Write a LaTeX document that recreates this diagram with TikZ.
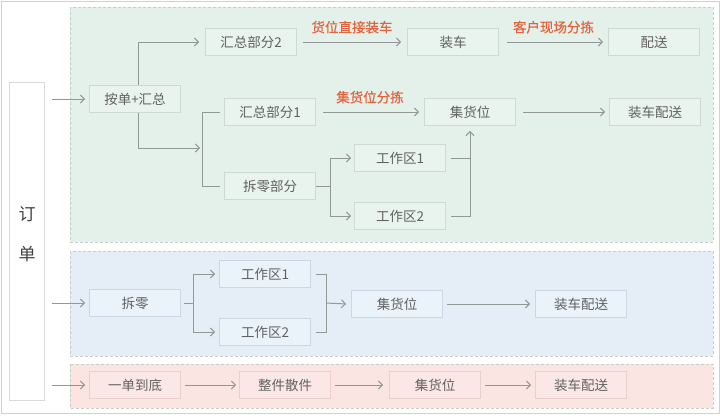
\documentclass[tikz,border=0pt]{standalone}
\usepackage{fontspec}
\newfontfamily\cjk{Noto Sans CJK SC}
\newfontfamily\cjkb[FakeBold=0.35]{Noto Sans CJK SC}
\usetikzlibrary{arrows.meta}
\definecolor{txt}{HTML}{616161}
\definecolor{ln}{HTML}{929896}
\definecolor{org}{HTML}{E2633D}
\definecolor{gbg}{HTML}{E4F0EA}
\definecolor{gbx}{HTML}{E9F4EF}
\definecolor{gbd}{HTML}{CCDAD3}
\definecolor{bbg}{HTML}{E5EEF7}
\definecolor{bbx}{HTML}{EAF2FA}
\definecolor{bbd}{HTML}{CBD8E4}
\definecolor{pbg}{HTML}{FBE5E3}
\definecolor{pbx}{HTML}{FBE8E6}
\definecolor{pbd}{HTML}{EBCFCB}
\definecolor{rgd}{HTML}{C6CFCB}
\begin{document}
\begin{tikzpicture}[x=1pt,y=-1pt,
  box/.style={draw=gbd, fill=gbx, minimum width=91pt, minimum height=27pt, inner sep=0pt,
    font=\cjk\fontsize{13.5}{15}\selectfont, text=txt, line width=0.8pt},
  bbox/.style={box, draw=bbd, fill=bbx},
  pbox/.style={box, draw=pbd, fill=pbx},
  region/.style={draw=rgd, dash pattern=on 3pt off 2pt, line width=0.8pt},
  line/.style={draw=ln, line width=1pt},
  arr/.style={line, -{Straight Barb[length=4pt,width=8pt]}},
  lab/.style={font=\cjkb\fontsize{13.5}{15}\selectfont, text=org, inner sep=0pt, above, yshift=8pt}
]
\useasboundingbox (0,0) rectangle (720,415);
\fill[white] (0,0) rectangle (720,415);
\draw[draw=black!18, line width=1pt] (1,1.5) rectangle (719,413);

% regions
\draw[region, fill=gbg] (70,7) rectangle (713,242);
\draw[region, fill=bbg] (70,251) rectangle (713,356);
\draw[region, fill=pbg] (70,364) rectangle (713,408);

% order box
\node[draw=black!15, fill=white, line width=0.8pt, minimum width=35pt, minimum height=318pt, inner sep=0pt] (order) at (26.5,241) {};
\node[font=\cjk\fontsize{17}{18}\selectfont, text=black!75] (d1) at (27,214) {订};
\node[font=\cjk\fontsize{17}{18}\selectfont, text=black!75] (d2) at (27,254) {单};

% entry coordinates
\coordinate (e1) at (52,99);
\coordinate (e2) at (52,303);
\coordinate (e3) at (52,385);

% green nodes
\node[box] (b1) at (135,99) {按单+汇总};
\node[box] (h2) at (251,42) {汇总部分2};
\node[box] (zc) at (453,42) {装车};
\node[box] (ps) at (654,42) {配送};
\node[box] (h1) at (270,112) {汇总部分1};
\node[box] (jg) at (470,112) {集货位};
\node[box] (zp) at (655,112) {装车配送};
\node[box] (cl) at (270,186) {拆零部分};
\node[box] (w1) at (400,158) {工作区1};
\node[box] (w2) at (400,216) {工作区2};

% blue nodes
\node[bbox] (chai) at (135,303) {拆零};
\node[bbox] (bw1) at (265,274) {工作区1};
\node[bbox] (bw2) at (265,332) {工作区2};
\node[bbox] (bj) at (397,304) {集货位};
\node[bbox] (bz) at (581,304) {装车配送};

% pink nodes
\node[pbox] (p1) at (135,385) {一单到底};
\node[pbox] (p2) at (285,385) {整件散件};
\node[pbox] (p3) at (435,385) {集货位};
\node[pbox] (p4) at (581,385) {装车配送};

% green connectors
\draw[arr, shorten >=4pt] (e1) -- (b1.west);
\draw[arr, shorten >=6pt] ([xshift=3pt]b1.north) |- (h2.west);
\coordinate (j1) at (202,148);
\draw[arr, shorten >=2pt] ([xshift=3pt]b1.south) |- (j1);
\draw[line] ([xshift=-4pt]h1.west) -| (j1 |- cl.west) -- ([xshift=-4pt]cl.west);
\draw[arr, shorten <=6pt, shorten >=6pt] (h2.east) -- node[lab] {货位直接装车} (zc.west);
\draw[arr, shorten <=8pt, shorten >=5pt] (zc.east) -- node[lab] {客户现场分拣} (ps.west);
\draw[arr, shorten <=7pt, shorten >=5pt] (h1.east) -- node[lab] {集货位分拣} (jg.west);
\draw[arr, shorten <=7pt, shorten >=4pt] (jg.east) -- (zp.west);
\coordinate (j2) at (330,186);
\draw[line] (cl.east) -- (j2);
\draw[arr] (j2) |- ([xshift=-3pt]w1.west);
\draw[arr] (j2) |- ([xshift=-3pt]w2.west);
\draw[line] ([xshift=5pt]w1.east) -- (w1.east -| jg.south);
\draw[arr, shorten >=5pt] ([xshift=5pt]w2.east) -| (jg.south);

% blue connectors
\draw[arr, shorten >=4pt] (e2) -- (chai.west);
\coordinate (jb1) at (193,303);
\draw[line] ([xshift=3pt]chai.east) -- (jb1);
\draw[arr] (jb1) |- ([xshift=-4pt]bw1.west);
\draw[arr] (jb1) |- ([xshift=-4pt]bw2.west);
\coordinate (jb2) at (326,303);
\draw[line] ([xshift=5pt]bw1.east) -| (jb2);
\draw[line] ([xshift=5pt]bw2.east) -| (jb2);
\draw[arr] (jb2) -- ([xshift=-5pt]bj.west);
\draw[arr, shorten <=4pt, shorten >=5pt] (bj.east) -- (bz.west);

% pink connectors
\draw[arr, shorten >=4pt] (e3) -- (p1.west);
\draw[arr, shorten <=4pt, shorten >=3pt] (p1.east) -- (p2.west);
\draw[arr, shorten <=4pt, shorten >=6pt] (p2.east) -- (p3.west);
\draw[arr, shorten <=4pt, shorten >=4pt] (p3.east) -- (p4.west);
\end{tikzpicture}
\end{document}
